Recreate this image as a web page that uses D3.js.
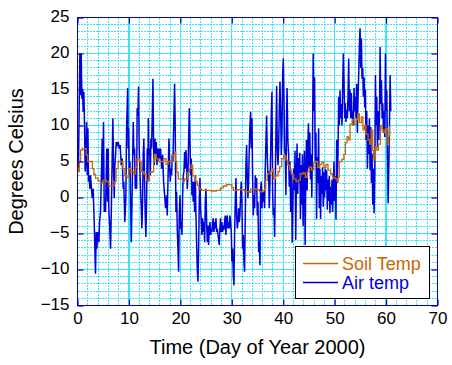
<!DOCTYPE html>
<html><head><meta charset="utf-8">
<script src="https://cdn.jsdelivr.net/npm/d3@7"></script>
<style>body{margin:0;background:#fff}svg{display:block;font-family:Arial,"Liberation Sans",sans-serif}</style>
</head><body><svg id="c" width="452" height="365"></svg>
<script>
const xTicks=[0,10,20,30,40,50,60,70];
const yTicks=[-15,-10,-5,0,5,10,15,20,25];
const xLabel="Time (Day of Year 2000)";
const yLabel="Degrees Celsius";
const seriesNames=["Soil Temp","Air temp"];
const seriesColors=["#CC6600","#0000DD"];

const soilTemp=[[0,4.0],[0.2,3.6],[0.35,5.0],[0.6,6.6],[1.0,6.8],[1.5,6.8],[1.7,5.9],[2.0,5.0],[2.6,5.0],[2.9,4.0],[3.2,3.2],[3.5,2.7],[4.0,2.3],[4.5,2.0],[5.0,2.4],[5.6,2.2],[6.1,1.6],[6.8,1.6],[7.1,2.2],[7.5,4.0],[7.9,5.0],[8.4,5.0],[8.8,4.0],[9.2,3.0],[9.6,2.8],[10.0,4.0],[10.4,3.6],[10.9,3.3],[11.3,4.2],[11.6,5.4],[12.0,5.0],[12.4,3.6],[12.9,3.2],[13.4,2.4],[13.7,2.3],[14.0,3.5],[14.5,3.6],[14.8,5.0],[15.0,6.0],[15.3,5.4],[15.7,5.0],[16.3,5.0],[16.8,5.4],[17.2,4.6],[17.6,5.0],[18.0,5.0],[18.4,5.9],[18.9,6.3],[19.1,5.0],[19.3,3.5],[19.6,2.6],[20.0,2.6],[20.4,2.2],[20.8,2.6],[21.2,2.6],[21.4,3.5],[21.8,4.0],[22.1,4.5],[22.4,3.0],[22.8,3.0],[23.0,2.2],[23.3,1.7],[23.6,1.2],[24.1,1.0],[25.0,1.0],[26.0,0.9],[27.0,1.0],[27.8,1.3],[28.3,1.6],[29.0,1.8],[29.6,1.8],[30.0,1.4],[30.3,1.0],[31.0,1.1],[32.0,1.1],[32.5,0.8],[33.4,0.7],[33.7,1.2],[34.3,1.2],[34.9,1.1],[35.4,0.8],[36.0,1.0],[36.4,1.2],[36.6,2.4],[36.9,3.3],[37.5,3.6],[37.9,4.0],[38.1,2.6],[38.5,3.0],[39.0,3.6],[39.3,4.3],[39.7,5.4],[40.1,5.8],[40.5,5.2],[40.9,4.5],[41.3,3.8],[41.6,3.2],[42.0,2.6],[42.5,2.2],[43.0,2.4],[43.3,3.3],[43.8,3.4],[44.3,2.8],[44.7,3.6],[45.1,4.2],[45.5,3.8],[45.9,4.8],[46.3,5.0],[46.7,4.2],[47.1,4.6],[47.5,4.9],[47.9,4.2],[48.3,4.6],[48.7,3.8],[49.2,3.3],[49.6,2.8],[50.1,2.6],[50.5,2.2],[50.7,2.8],[50.9,5.0],[51.4,5.3],[51.8,6.0],[52.1,7.6],[52.4,8.4],[52.7,8.0],[53.0,10.2],[53.4,10.8],[53.8,10.2],[54.2,10.8],[54.5,11.6],[54.8,10.4],[55.2,11.2],[55.5,9.4],[55.8,10.0],[56.1,8.8],[56.5,8.0],[56.8,7.4],[57.1,9.4],[57.4,6.5],[57.6,5.2],[57.9,7.0],[58.2,6.6],[58.5,7.4],[58.9,10.0],[59.2,9.4],[59.6,9.0],[59.9,9.6],[60.2,7.3],[60.5,8.5],[60.7,10.0]];

const airTemp=[[0,4.5],[0.07,3.6],[0.2,5],[0.33,12.8],[0.46,20],[0.59,14.2],[0.72,20],[0.85,13.7],[0.98,15.1],[1.1,11.9],[1.24,14.7],[1.37,10],[1.5,3.6],[1.63,5.4],[1.76,10.5],[1.89,3.1],[2.02,9.6],[2.15,2.2],[2.28,3.1],[2.4,1.2],[2.54,3.1],[2.67,1.7],[2.86,-0.1],[3.05,1.2],[3.25,-3.4],[3.38,-7.1],[3.5,-10.6],[3.64,-4.8],[3.76,-7.1],[3.96,-4.8],[4.16,-6.2],[4.29,-3.4],[4.48,-2],[4.68,4],[4.8,8.2],[4.93,2.2],[5.06,10.5],[5.2,-2],[5.32,-0.6],[5.45,-2],[5.58,3.1],[5.7,6.8],[5.84,-0.6],[5.97,6.8],[6.1,-2],[6.23,-3.4],[6.43,-7.1],[6.56,-2.5],[6.69,3.1],[6.88,11],[7.0,4.5],[7.14,-0.1],[7.27,4.5],[7.4,5.9],[7.53,7.7],[7.72,7.3],[7.92,7.7],[8.11,6.8],[8.3,7.3],[8.5,4.5],[8.7,5.4],[8.89,1.2],[9.0,2.2],[9.2,-3.4],[9.4,-0.1],[9.54,9.6],[9.67,12.8],[9.75,15.2],[9.85,6.8],[9.93,9.6],[10.06,3.1],[10.2,5],[10.32,-0.6],[10.45,-6.2],[10.58,-1.5],[10.7,4.5],[10.84,10.5],[10.97,5.9],[11.1,6.8],[11.23,1.2],[11.35,4],[11.5,1.2],[11.6,12.4],[11.74,11.4],[11.87,15.4],[12.0,6.8],[12.13,4],[12.26,1.2],[12.4,-1.5],[12.52,-4.3],[12.65,-0.6],[12.78,5.9],[12.9,8.2],[13.04,2.2],[13.17,-2.5],[13.3,-5.5],[13.43,-0.6],[13.56,6.8],[13.7,2.2],[13.76,11],[13.89,5.9],[14.02,6.8],[14.15,3.1],[14.28,8.2],[14.4,6.8],[14.54,11.4],[14.67,16.5],[14.8,6.8],[14.93,4.5],[15.06,8.2],[15.19,5.9],[15.32,7.7],[15.45,4.5],[15.57,6.8],[15.7,5],[15.83,6.8],[15.96,5.4],[16.16,6.8],[16.35,4],[16.55,5.9],[16.74,2.2],[16.94,0.3],[17.13,-1.5],[17.33,0.3],[17.45,-2.5],[17.59,2.2],[17.78,8.2],[17.91,4.5],[18.04,2.2],[18.17,4],[18.3,3.1],[18.43,5.9],[18.56,5],[18.75,11.4],[18.88,15.8],[19.0,10],[19.14,-2],[19.27,0.8],[19.4,-4.3],[19.53,-7.1],[19.66,-10.3],[19.79,-2.5],[19.92,0.3],[20.05,-4.3],[20.18,-3.4],[20.31,-5.2],[20.44,0.3],[20.57,3.1],[20.7,3.6],[20.83,6.3],[20.96,4],[21.09,6.6],[21.22,4.5],[21.35,1.2],[21.48,3.1],[21.6,7.7],[21.74,12.4],[21.87,7.7],[22.0,3.1],[22.12,5.4],[22.25,0.3],[22.38,2.2],[22.5,-0.6],[22.64,2.2],[22.77,-2],[22.9,3.1],[23.03,-2.5],[23.16,-6.2],[23.29,-9.9],[23.42,-11.7],[23.55,-7.1],[23.68,-0.6],[23.81,2.7],[23.94,-1.5],[24.07,-3.4],[24.2,-5.2],[24.33,-2.9],[24.46,-4.8],[24.59,-3.4],[24.72,-6.2],[24.85,-0.6],[24.98,1.2],[25.11,-3.4],[25.24,-6.2],[25.37,-3.9],[25.5,-6.6],[25.63,-4.3],[25.76,-3.4],[25.89,-5.2],[26.02,-4.3],[26.15,-4.8],[26.28,-3.4],[26.4,-2.9],[26.53,-4.8],[26.66,-3.4],[26.79,-4.3],[26.92,-2.9],[27.05,-4.8],[27.18,-4.3],[27.31,-5.2],[27.43,-5.7],[27.56,-6.6],[27.69,-4.3],[27.82,-2.9],[27.95,-4.8],[28.08,-3.4],[28.21,-4.8],[28.34,-3.9],[28.47,-4.5],[28.6,-3.4],[28.73,-2.5],[28.86,-5.2],[28.99,-2.9],[29.12,-2.5],[29.25,-4.3],[29.38,-3.4],[29.51,-4.3],[29.64,-2.5],[29.77,-3.4],[29.9,-4.8],[30.03,-8.9],[30.16,-7.1],[30.29,-10.8],[30.42,-12.2],[30.55,-4.8],[30.68,-0.6],[30.81,2.7],[30.94,-2.5],[31.07,-4.3],[31.2,-3.4],[31.33,-1.5],[31.45,-3.4],[31.58,-2.5],[31.71,0.3],[31.84,2.2],[31.97,-0.6],[32.1,-7.1],[32.23,-5.2],[32.36,-8.9],[32.49,-10.3],[32.62,-2.5],[32.75,4.5],[32.88,7.3],[33.01,3.1],[33.14,-0.1],[33.27,2.2],[33.4,6.8],[33.53,10],[33.66,11.9],[33.79,6.8],[33.92,11],[34.05,2.7],[34.18,-2.5],[34.31,0.3],[34.44,-1.5],[34.57,3.1],[34.7,1.2],[34.83,2.7],[34.96,-2.5],[35.09,-0.6],[35.22,-7.6],[35.35,-6.2],[35.48,-9.4],[35.6,1.2],[35.73,2.2],[35.86,-1.5],[35.99,0.8],[36.12,-0.6],[36.25,0.8],[36.38,-1.5],[36.51,4],[36.64,7.7],[36.77,11.4],[36.9,5.9],[37.03,2.7],[37.16,3.6],[37.29,-1.5],[37.42,2.2],[37.55,5.9],[37.68,11.4],[37.81,14.7],[37.94,0.8],[38.07,-2.5],[38.2,-1.5],[38.33,-5.5],[38.46,2.2],[38.59,9.1],[38.72,15.5],[38.85,6.8],[38.98,4.5],[39.11,6.8],[39.24,12.4],[39.37,16.1],[39.5,11.9],[39.63,5.9],[39.76,9.1],[39.89,17],[40.02,19.3],[40.15,13.7],[40.28,6.8],[40.4,5.9],[40.53,0.3],[40.66,11.9],[40.75,15.2],[40.9,8],[41.05,6],[41.18,1.5],[41.3,5],[41.45,-2],[41.6,3.4],[41.75,-6.3],[41.9,0],[42.03,4],[42.16,1],[42.3,6.5],[42.43,-5.9],[42.56,2],[42.69,7.5],[42.82,0.5],[42.95,5.5],[43.08,2],[43.21,6.2],[43.35,-3],[43.48,4.5],[43.6,-1],[43.74,6],[43.87,-4],[44.0,2],[44.13,6.5],[44.26,-6.6],[44.39,3],[44.52,8],[44.65,1],[44.78,7],[44.91,10.3],[45.04,4],[45.17,9],[45.3,2.5],[45.43,6],[45.56,0],[45.7,8],[45.83,20],[45.96,12],[46.1,16.7],[46.23,5],[46.36,9],[46.49,-3],[46.62,5.6],[46.75,2],[46.88,9.6],[47.01,-1.5],[47.14,4],[47.27,-3],[47.4,3],[47.53,0.5],[47.66,4.2],[47.79,-1.3],[47.92,3.5],[48.05,0],[48.18,4],[48.31,1],[48.44,3.8],[48.57,-1.7],[48.7,2.5],[48.83,-0.5],[48.96,3],[49.09,-2.2],[49.22,1.5],[49.35,-1],[49.48,2.5],[49.61,-2],[49.74,1],[49.87,5],[50.0,-0.5],[50.13,3],[50.26,-3.1],[50.39,8],[50.52,2],[50.65,6],[50.78,14],[50.91,10],[51.04,14.9],[51.17,11],[51.3,13],[51.43,10],[51.56,15],[51.69,20],[51.82,16.3],[51.95,11],[52.08,13.1],[52.21,10.5],[52.34,12.1],[52.47,11],[52.6,14],[52.73,19.3],[52.86,12],[52.99,15],[53.12,11],[53.25,14.5],[53.38,11],[53.51,12],[53.64,10],[53.77,15.2],[53.9,12],[54.03,14],[54.16,11],[54.29,15.8],[54.42,9],[54.55,14],[54.68,17],[54.81,21],[54.94,23.5],[55.07,18],[55.2,22.1],[55.33,16.5],[55.46,18],[55.59,14],[55.72,16.7],[55.85,12.5],[55.98,15],[56.11,8],[56.24,12],[56.37,4],[56.5,10],[56.63,6],[56.76,11],[56.89,3.8],[57.02,9.8],[57.15,2],[57.28,6.1],[57.41,-1],[57.54,4],[57.67,-2.2],[57.8,3],[57.93,17],[58.06,10],[58.19,14],[58.32,7],[58.45,12],[58.58,8],[58.71,11],[58.84,20.9],[58.97,13],[59.1,16.3],[59.23,11],[59.36,13.1],[59.49,9],[59.62,12],[59.75,8.4],[59.88,20],[60.01,12],[60.14,14.9],[60.27,6],[60.4,-0.8],[60.53,4],[60.66,10],[60.79,17],[60.92,12]];

const svg=d3.select("#c");
const L=77.5,R=437.5,T=17.5,B=305.5;
const x=d3.scaleLinear().domain([0,70]).range([L,R]);
const y=d3.scaleLinear().domain([-15,25]).range([B,T]);
const gridC="#3CE6FA";
const axisC="#0000C8";
const font="Arial, 'Liberation Sans', sans-serif";

// grid
const grid=svg.append("g").attr("shape-rendering","crispEdges");
const xMinor=d3.range(0,70.01,2).filter(v=>v%10!==0);
const yMinor=d3.range(-15,25.01,1).filter(v=>v%5!==0);
const xMajor=xTicks.filter(v=>v>0&&v<70);
const yMajor=yTicks.filter(v=>v>-15&&v<25);
grid.selectAll(".xm").data(xMinor).join("line").attr("class","xm").attr("x1",d=>x(d)).attr("x2",d=>x(d)).attr("y1",T).attr("y2",B).attr("stroke",gridC).attr("stroke-width",1).attr("stroke-dasharray","2,1");
grid.selectAll(".ym").data(yMinor).join("line").attr("class","ym").attr("y1",d=>y(d)).attr("y2",d=>y(d)).attr("x1",L).attr("x2",R).attr("stroke",gridC).attr("stroke-width",1).attr("stroke-dasharray","2,1");
grid.selectAll(".xM").data(xMajor).join("line").attr("class","xM").attr("x1",d=>x(d)).attr("x2",d=>x(d)).attr("y1",T).attr("y2",B).attr("stroke",gridC).attr("stroke-width",1.4);
grid.selectAll(".yM").data(yMajor).join("line").attr("class","yM").attr("y1",d=>y(d)).attr("y2",d=>y(d)).attr("x1",L).attr("x2",R).attr("stroke",gridC).attr("stroke-width",1.4);

// data
svg.append("clipPath").attr("id","clip").append("rect").attr("x",L).attr("y",T).attr("width",R-L).attr("height",B-T);
const line=d3.line().x(d=>x(d[0])).y(d=>y(d[1]));
const stepLine=d3.line().curve(d3.curveStepAfter).x(d=>x(d[0])).y(d=>y(d[1]));
const plot=svg.append("g").attr("clip-path","url(#clip)");
plot.append("path").datum(airTemp).attr("d",line).attr("fill","none").attr("stroke",seriesColors[1]).attr("stroke-width",1.5);
plot.append("path").datum(soilTemp).attr("d",stepLine).attr("fill","none").attr("stroke",seriesColors[0]).attr("stroke-width",1.3);

// axes
function styleAxis(g){g.select(".domain").remove();g.selectAll(".tick line").attr("stroke",axisC).attr("stroke-width",1.2);g.selectAll("text").attr("fill","#000").style("font-size","17px").style("font-family",font);}
svg.append("g").attr("transform",`translate(0,${B})`).call(d3.axisBottom(x).tickValues(xTicks).tickFormat(d3.format("d")).tickSizeInner(-6).tickSizeOuter(0).tickPadding(6)).call(styleAxis);
svg.append("g").attr("transform",`translate(0,${T})`).call(d3.axisTop(x).tickValues(xTicks).tickFormat("").tickSizeInner(-6).tickSizeOuter(0)).call(styleAxis);
svg.append("g").attr("transform",`translate(${L},0)`).call(d3.axisLeft(y).tickValues(yTicks).tickFormat(d3.format("d")).tickSizeInner(-6).tickSizeOuter(0).tickPadding(8)).call(styleAxis).selectAll("text").attr("dy","0.26em");
svg.append("g").attr("transform",`translate(${R},0)`).call(d3.axisRight(y).tickValues(yTicks).tickFormat("").tickSizeInner(-6).tickSizeOuter(0)).call(styleAxis);
svg.append("rect").attr("x",L).attr("y",T).attr("width",R-L).attr("height",B-T).attr("fill","none").attr("stroke",axisC).attr("stroke-width",1.2).attr("shape-rendering","crispEdges");

// titles
svg.append("text").attr("x",(L+R)/2).attr("y",354).attr("text-anchor","middle").style("font-size","20px").style("font-family",font).attr("fill","#000").text(xLabel);
svg.append("text").attr("transform",`translate(23,${(T+B)/2}) rotate(-90)`).attr("text-anchor","middle").style("font-size","20px").style("font-family",font).attr("fill","#000").text(yLabel);

// legend
const lg=svg.append("g");
lg.append("rect").attr("x",295.5).attr("y",246.5).attr("width",134).attr("height",52).attr("fill","#fff").attr("stroke","#000").attr("stroke-width",1).attr("shape-rendering","crispEdges");
seriesNames.forEach((n,i)=>{
  const yy=263.5+i*19;
  lg.append("line").attr("x1",303).attr("x2",338).attr("y1",yy).attr("y2",yy).attr("stroke",seriesColors[i]).attr("stroke-width",1.3);
  lg.append("text").attr("x",342).attr("y",yy+6.5).style("font-size","18px").style("font-family",font).attr("fill",seriesColors[i]).text(n);
});
</script></body></html>
